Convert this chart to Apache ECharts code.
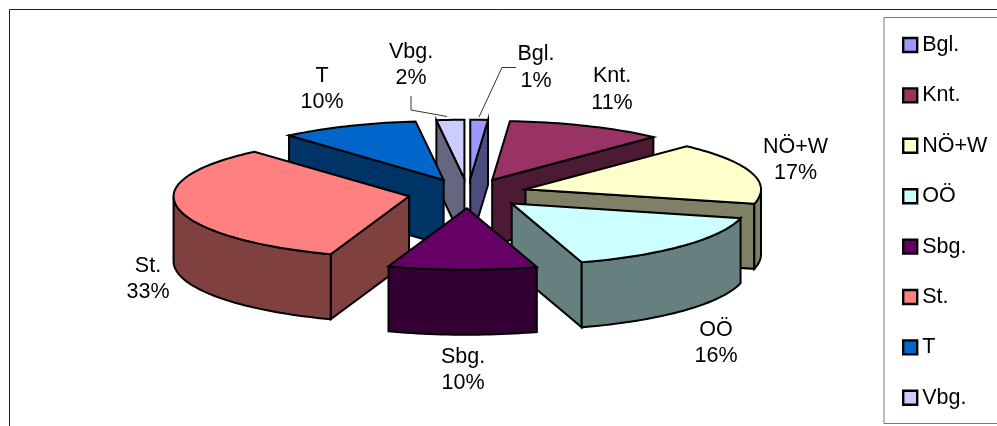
<!DOCTYPE html>
<html>
<head>
<meta charset="utf-8">
<style>html,body{margin:0;padding:0;background:#fff}#c{width:997px;height:426px}</style>
<script src="https://cdn.jsdelivr.net/npm/echarts@6/dist/echarts.min.js"></script>
</head>
<body>
<div id="c"></div>
<script>
// --- data ---
const categories = ['Bgl.', 'Knt.', 'NÖ+W', 'OÖ', 'Sbg.', 'St.', 'T', 'Vbg.'];
const shares = [1.2, 10.8, 16.8, 16.4, 10.2, 33.2, 9.5, 1.9];

// --- style / layout ---
const topColors = ['#9999FF', '#993366', '#FFFFCC', '#CCFFFF', '#660066', '#FF8080', '#0066CC', '#CCCCFF'];
const sideColors = ['#4C4C80', '#4D1A33', '#808066', '#668080', '#330033', '#804040', '#003366', '#666680'];
const paintOrder = ['Bgl.', 'Vbg.', 'Knt.', 'T', 'NÖ+W', 'St.', 'OÖ', 'Sbg.'];
const pie = { cx: 468, cy: 193.5, rx: 235.5, ryBack: 59, ryFront: 61.5, explodeX: 60, explodeY: 14.75, depth: 65 };
const labelCentres = {
  'Bgl.': [536, 67.5], 'Knt.': [612, 89.5], 'NÖ+W': [795.5, 160], 'OÖ': [716, 343],
  'Sbg.': [463, 370], 'St.': [148, 279], 'T': [322, 89], 'Vbg.': [411, 65]
};
const leaders = {
  'Bgl.': [[516, 67.5], [502, 67.5], [479, 117]],
  'Vbg.': [[411, 96], [411, 110], [447, 116.5]]
};
const font = '"Liberation Sans", Arial, sans-serif';
const labelSize = 21.5;

const total = shares.reduce((a, b) => a + b, 0);
const rad = d => d * Math.PI / 180;

function renderSlice(params, api) {
  const i = params.seriesIndex;
  const value = api.value(0);
  const before = shares.slice(0, i).reduce((a, b) => a + b, 0);
  const a0 = before / total * 360;
  const a1 = a0 + value / total * 360;
  const mid = rad((a0 + a1) / 2);
  const ox = pie.cx + pie.explodeX * Math.sin(mid);
  const oy = pie.cy - pie.explodeY * Math.cos(mid);
  const at = deg => {
    const c = Math.cos(rad(deg));
    return [ox + pie.rx * Math.sin(rad(deg)), oy - (c < 0 ? pie.ryFront : pie.ryBack) * c];
  };
  const down = p => [p[0], p[1] + pie.depth];
  const arc = (from, to) => {
    const pts = [];
    const n = Math.max(2, Math.ceil((to - from) / 1.5));
    for (let k = 0; k <= n; k++) pts.push(at(from + (to - from) * k / n));
    return pts;
  };
  const tip = [ox, oy];
  const lineStyle = fill => ({ fill, stroke: '#000', lineWidth: 2, lineJoin: 'miter' });
  const poly = (points, fill) => ({ type: 'polygon', shape: { points }, style: lineStyle(fill) });
  const children = [];
  const wall = p => poly([tip, p, down(p), down(tip)], sideColors[i]);
  if (Math.sin(rad(a0)) < 0) children.push(wall(at(a0)));
  if (Math.sin(rad(a1)) > 0) children.push(wall(at(a1)));
  const f0 = Math.max(a0, 90), f1 = Math.min(a1, 270);
  if (f1 > f0) {
    const rim = arc(f0, f1);
    children.push(poly(rim.concat(rim.slice().reverse().map(down)), sideColors[i]));
  }
  children.push(poly([tip].concat(arc(a0, a1)), topColors[i]));

  const name = categories[i];
  const c = labelCentres[name];
  children.push({
    type: 'text',
    style: {
      x: c[0], y: c[1], align: 'center', verticalAlign: 'middle',
      text: name + '\n' + Math.round(value) + '%',
      font: labelSize + 'px ' + font, lineHeight: 26.5, fill: '#000'
    }
  });
  if (leaders[name]) {
    children.push({
      type: 'polyline', shape: { points: leaders[name] },
      style: { fill: 'none', stroke: '#000', lineWidth: 0.8 }
    });
  }
  return { type: 'group', children };
}

const chart = echarts.init(document.getElementById('c'), null, { renderer: 'canvas' });
chart.setOption({
  backgroundColor: '#fff',
  animation: false,
  legend: {
    show: true,
    orient: 'vertical',
    left: 902 - 5,
    top: 34 - 5,
    padding: 5,
    data: categories,
    selectedMode: false,
    icon: 'rect',
    itemWidth: 14,
    itemHeight: 14,
    itemGap: 28.4,
    itemStyle: { borderColor: '#000', borderWidth: 2.4 },
    textStyle: { fontFamily: font, fontSize: labelSize, color: '#000', lineHeight: 14 }
  },
  graphic: [
    { type: 'polyline', z: 0, shape: { points: [[9.5, 426], [9.5, 9.5], [997, 9.5]] },
      style: { fill: 'none', stroke: '#222', lineWidth: 1 } },
    { type: 'rect', z: 0, shape: { x: 884, y: 17.5, width: 130, height: 406 },
      style: { fill: '#fff', stroke: '#777', lineWidth: 1 } }
  ],
  series: categories.map((name, i) => ({
    type: 'custom',
    name,
    coordinateSystem: 'none',
    z: 2 + paintOrder.indexOf(name),
    silent: true,
    itemStyle: { color: topColors[i] },
    renderItem: renderSlice,
    data: [[shares[i]]]
  }))
});
</script>
</body>
</html>
